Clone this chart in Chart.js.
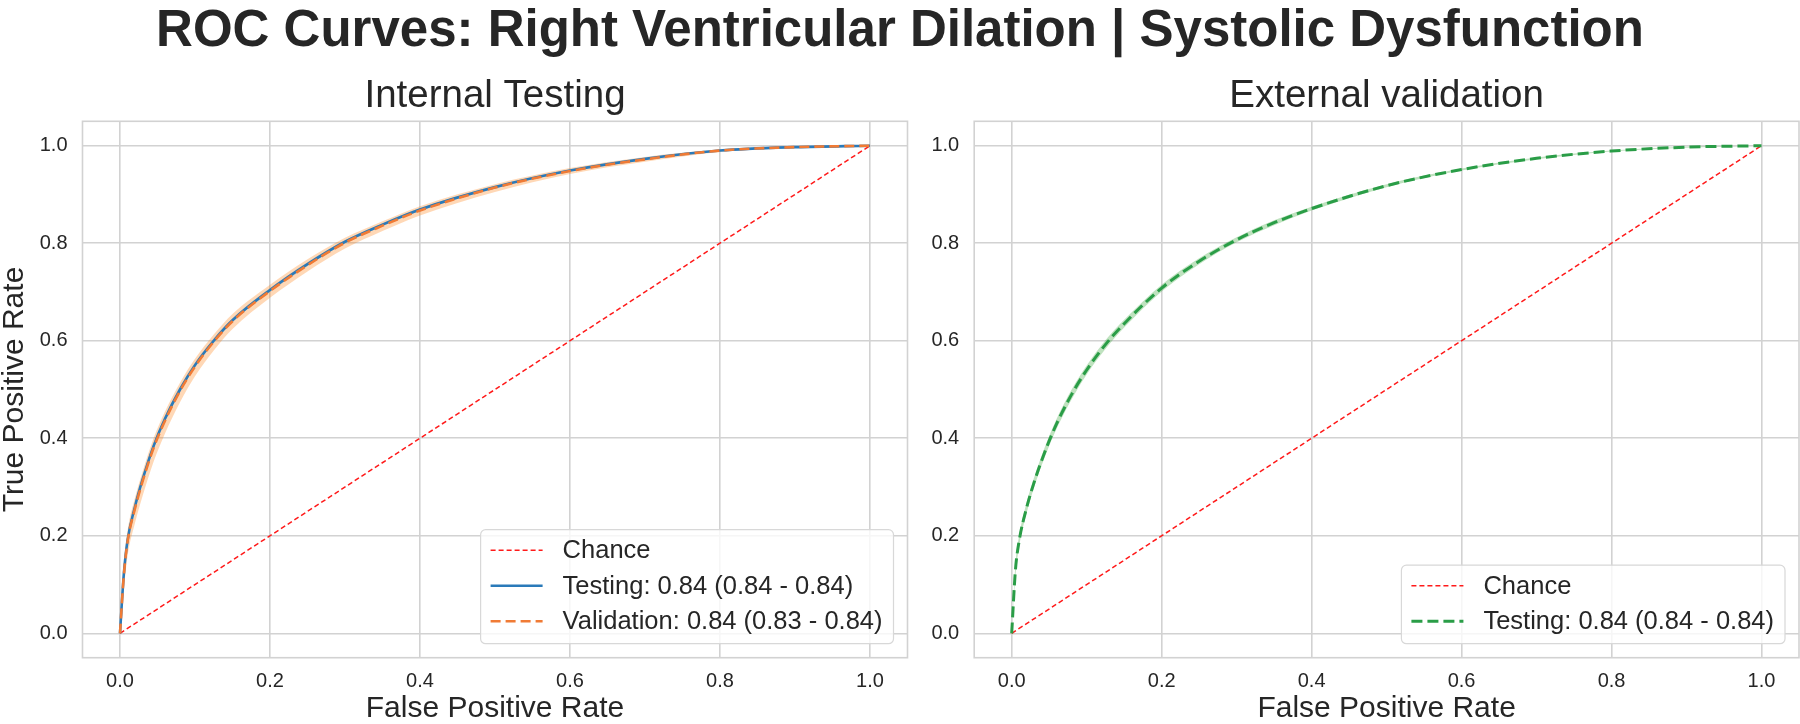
<!DOCTYPE html>
<html>
<head>
<meta charset="utf-8">
<script src="https://cdn.jsdelivr.net/npm/chart.js@4.4.1/dist/chart.umd.min.js"></script>
<style>
  body { margin: 0; background: #fff; }
  #wrap { position: relative; width: 1800px; height: 724px; background: #fff; overflow: hidden; }
  #suptitle {
    position: absolute; left: 0; top: 3px; width: 1800px; text-align: center;
    font: bold 51px "Liberation Sans", Arial, sans-serif; line-height: 51px; color: #262626;
  }
  #leftBox { position: absolute; left: 0; top: 0; }
  #rightBox { position: absolute; left: 912px; top: 0; }
</style>
</head>
<body>
<div id="wrap">
  <div id="suptitle">ROC Curves: Right Ventricular Dilation | Systolic Dysfunction</div>
  <div id="leftBox"><canvas id="internal" width="912" height="724"></canvas></div>
  <div id="rightBox"><canvas id="external" width="888" height="724"></canvas></div>
</div>
<script>
// ---------------------------- data ----------------------------
let fpr = [0, 0.005, 0.01, 0.02, 0.03, 0.045, 0.06, 0.08, 0.1, 0.125, 0.15, 0.2, 0.25, 0.3, 0.35, 0.4, 0.5, 0.6, 0.7, 0.8, 0.9, 1.0];

// internal testing
let internalTest   = [0, 0.12, 0.19, 0.26, 0.315, 0.385, 0.44, 0.50, 0.55, 0.60, 0.642, 0.704, 0.757, 0.803, 0.838, 0.869, 0.915, 0.949, 0.973, 0.99, 0.997, 1.0];
let internalTestLo = [0, 0.114, 0.184, 0.254, 0.309, 0.379, 0.434, 0.494, 0.545, 0.595, 0.638, 0.70, 0.753, 0.80, 0.835, 0.866, 0.913, 0.947, 0.972, 0.989, 0.997, 1.0];
let internalTestHi = [0, 0.126, 0.196, 0.266, 0.321, 0.391, 0.446, 0.506, 0.555, 0.605, 0.646, 0.708, 0.761, 0.806, 0.841, 0.872, 0.917, 0.951, 0.974, 0.991, 0.998, 1.0];

// internal validation
let internalVal   = [0, 0.117, 0.187, 0.256, 0.311, 0.381, 0.436, 0.497, 0.547, 0.598, 0.64, 0.702, 0.755, 0.801, 0.836, 0.867, 0.914, 0.948, 0.972, 0.99, 0.997, 1.0];
let internalValLo = [0, 0.088, 0.158, 0.226, 0.281, 0.353, 0.41, 0.474, 0.527, 0.58, 0.624, 0.688, 0.742, 0.789, 0.825, 0.857, 0.905, 0.942, 0.967, 0.987, 0.996, 1.0];
let internalValHi = [0, 0.14, 0.21, 0.278, 0.331, 0.401, 0.455, 0.514, 0.563, 0.613, 0.655, 0.715, 0.767, 0.811, 0.845, 0.876, 0.921, 0.954, 0.977, 0.992, 0.998, 1.0];

// external validation
let externalTest   = [0, 0.13, 0.19, 0.258, 0.31, 0.375, 0.43, 0.49, 0.54, 0.592, 0.635, 0.708, 0.763, 0.807, 0.842, 0.871, 0.918, 0.951, 0.974, 0.989, 0.997, 1.0];
let externalTestLo = [0, 0.118, 0.179, 0.247, 0.3, 0.365, 0.42, 0.48, 0.531, 0.583, 0.627, 0.701, 0.757, 0.802, 0.837, 0.867, 0.915, 0.949, 0.972, 0.988, 0.996, 1.0];
let externalTestHi = [0, 0.142, 0.201, 0.269, 0.32, 0.385, 0.44, 0.5, 0.549, 0.601, 0.643, 0.715, 0.769, 0.812, 0.847, 0.875, 0.921, 0.953, 0.976, 0.990, 0.998, 1.0];

let chanceX = [0, 1];
let chanceY = [0, 1];

let tickValues = [0, 0.2, 0.4, 0.6, 0.8, 1.0];

let internalTitle = "Internal Testing";
let externalTitle = "External validation";
let xTitle = "False Positive Rate";
let yTitle = "True Positive Rate";
let chanceLabel = "Chance";
let internalTestLabel = "Testing: 0.84 (0.84 - 0.84)";
let internalValLabel = "Validation: 0.84 (0.83 - 0.84)";
let externalTestLabel = "Testing: 0.84 (0.84 - 0.84)";
// --------------------------------------------------------------

const FONT = '"Liberation Sans", Arial, sans-serif';
const TEXT = "#262626";
const GRID = "#d2d2d2";
const BLUE = "#2a7ab9";
const ORANGE = "#f07b35";
const GREEN = "#2a9d47";
const RED = "#ff1a1a";

let pts = (xs, ys) => xs.map((x, i) => ({ x: x, y: ys[i] }));

// frame around the plot area (seaborn whitegrid look)
const frame = {
  id: "frame",
  beforeDatasetsDraw(chart) {
    const { ctx, chartArea: a } = chart;
    ctx.save();
    ctx.strokeStyle = GRID;
    ctx.lineWidth = 1.6;
    ctx.strokeRect(a.left, a.top, a.right - a.left, a.bottom - a.top);
    ctx.restore();
  },
};

// subplot title, centred over the plot area (not the whole canvas)
const areaTitle = {
  id: "areaTitle",
  afterDraw(chart, args, opts) {
    const { ctx, chartArea: a } = chart;
    ctx.save();
    ctx.font = "38.5px " + FONT;
    ctx.fillStyle = TEXT;
    ctx.textAlign = "center";
    ctx.textBaseline = "middle";
    ctx.fillText(opts.text, (a.left + a.right) / 2, opts.y);
    ctx.restore();
  },
};

// legend in the lower right corner of the plot area
const lowerRightLegend = {
  id: "lowerRightLegend",
  afterDraw(chart) {
    const { ctx, chartArea: a } = chart;
    let items = chart.data.datasets
      .filter((d) => d.legendRank !== undefined)
      .sort((p, q) => p.legendRank - q.legendRank);
    ctx.save();
    ctx.font = "25.5px " + FONT;
    let textW = Math.max(...items.map((d) => ctx.measureText(d.label).width));
    let rowH = 35.5;
    let w = 82 + textW + 11;
    let h = 43 + rowH * (items.length - 1);
    let x = a.right - 14 - w;
    let y = a.bottom - 14 - h;

    ctx.beginPath();
    ctx.roundRect(x, y, w, h, 5);
    ctx.fillStyle = "rgba(255,255,255,0.8)";
    ctx.fill();
    ctx.strokeStyle = "#d8d8d8";
    ctx.lineWidth = 1.2;
    ctx.stroke();

    items.forEach((d, i) => {
      let ry = y + 20.5 + i * rowH;
      ctx.beginPath();
      ctx.setLineDash(d.borderDash || []);
      ctx.strokeStyle = d.borderColor;
      ctx.lineWidth = d.borderWidth;
      ctx.moveTo(x + 10, ry);
      ctx.lineTo(x + 62, ry);
      ctx.stroke();
      ctx.setLineDash([]);
      ctx.fillStyle = TEXT;
      ctx.textBaseline = "middle";
      ctx.textAlign = "left";
      ctx.fillText(d.label, x + 82, ry + 1);
    });
    ctx.restore();
  },
};

let axisCommon = () => ({
  type: "linear",
  min: -0.05,
  max: 1.05,
  afterBuildTicks: (s) => {
    s.ticks = tickValues.map((v) => ({ value: v }));
  },
  grid: { color: GRID, lineWidth: 1.6, drawTicks: false },
  border: { display: false },
  ticks: {
    color: TEXT,
    font: { family: FONT, size: 20 },
    autoSkip: false,
    maxRotation: 0,
    callback: (v) => Number(v).toFixed(1),
  },
});

let makeChart = (canvasId, title, datasets, yAxisWidth, padRight, showYTitle) => {
  let x = axisCommon();
  x.afterFit = (s) => { s.height = 66.3; };
  x.ticks.padding = 12;
  x.title = { display: true, text: xTitle, color: TEXT, font: { family: FONT, size: 30, lineHeight: 1 }, padding: 0 };

  let y = axisCommon();
  y.afterFit = (s) => { s.width = yAxisWidth; };
  y.ticks.padding = 15;
  y.title = { display: showYTitle, text: yTitle, color: TEXT, font: { family: FONT, size: 30, lineHeight: 1 }, padding: 0 };

  return new Chart(document.getElementById(canvasId), {
    type: "line",
    data: { datasets: datasets },
    options: {
      responsive: false,
      animation: false,
      layout: { padding: { top: 121.3, right: padRight, left: 0, bottom: 0 } },
      elements: { point: { radius: 0 }, line: { cubicInterpolationMode: "monotone" } },
      scales: { x: x, y: y },
      plugins: {
        legend: { display: false },
        tooltip: { enabled: false },
        title: { display: false },
        areaTitle: { text: title, y: 96 },
      },
    },
    plugins: [frame, areaTitle, lowerRightLegend],
  });
};

// -------------------------- internal --------------------------
makeChart("internal", internalTitle, [
  { label: internalValLabel, data: pts(fpr, internalVal), borderColor: ORANGE, borderWidth: 2.6, borderDash: [10, 5], fill: false, order: 0, legendRank: 2 },
  { label: internalTestLabel, data: pts(fpr, internalTest), borderColor: BLUE, borderWidth: 2.6, fill: false, order: 1, legendRank: 1 },
  { label: chanceLabel, data: pts(chanceX, chanceY), borderColor: RED, borderWidth: 1.5, borderDash: [5, 3], fill: false, order: 2, legendRank: 0 },
  { label: "_valLo", data: pts(fpr, internalValLo), borderWidth: 0, borderColor: "rgba(0,0,0,0)", fill: false, order: 5 },
  { label: "_valHi", data: pts(fpr, internalValHi), borderWidth: 0, borderColor: "rgba(0,0,0,0)", backgroundColor: "rgba(255,127,14,0.3)", fill: 3, order: 4 },
  { label: "_testLo", data: pts(fpr, internalTestLo), borderWidth: 0, borderColor: "rgba(0,0,0,0)", fill: false, order: 7 },
  { label: "_testHi", data: pts(fpr, internalTestHi), borderWidth: 0, borderColor: "rgba(0,0,0,0)", backgroundColor: "rgba(31,119,180,0.2)", fill: 5, order: 6 },
], 82.5, 4.5, true);

// -------------------------- external --------------------------
makeChart("external", externalTitle, [
  { label: externalTestLabel, data: pts(fpr, externalTest), borderColor: GREEN, borderWidth: 3, borderDash: [11, 5], fill: false, order: 0, legendRank: 1 },
  { label: chanceLabel, data: pts(chanceX, chanceY), borderColor: RED, borderWidth: 1.5, borderDash: [5, 3], fill: false, order: 1, legendRank: 0 },
  { label: "_extLo", data: pts(fpr, externalTestLo), borderWidth: 0, borderColor: "rgba(0,0,0,0)", fill: false, order: 3 },
  { label: "_extHi", data: pts(fpr, externalTestHi), borderWidth: 0, borderColor: "rgba(0,0,0,0)", backgroundColor: "rgba(44,160,44,0.3)", fill: 2, order: 2 },
], 62.2, 1, false);
</script>
</body>
</html>
